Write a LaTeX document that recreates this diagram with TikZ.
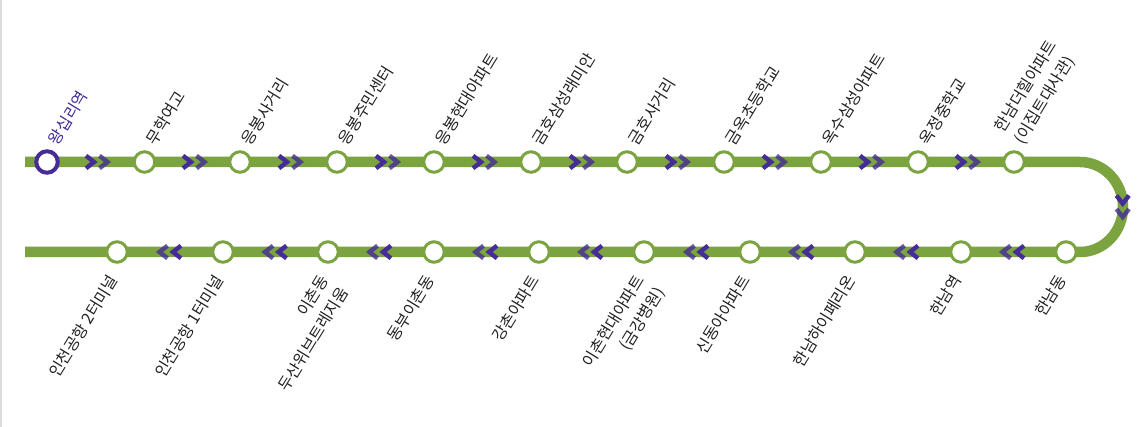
\documentclass[tikz,border=0pt]{standalone}
\usepackage{fontspec}
\setmainfont{Noto Sans CJK KR}
\usetikzlibrary{backgrounds}
\definecolor{trackgreen}{HTML}{7BA33F}
\definecolor{linepurple}{HTML}{452C96}
\definecolor{labelgray}{HTML}{222222}
\begin{document}
\begin{tikzpicture}[
x=1pt,y=-1pt,
track/.style={line width=10.5pt,trackgreen},
stop/.style={circle,draw=trackgreen,fill=white,line width=3pt,minimum size=20.5pt,inner sep=0pt},
firststop/.style={stop,draw=linepurple,line width=4pt,minimum size=21.5pt},
uplabel/.style={rotate=58.5,anchor=south west,align=left,inner sep=0pt,text=labelgray,font=\fontsize{16}{23}\selectfont},
downlabel/.style={rotate=58.5,anchor=north east,align=right,inner sep=0pt,text=labelgray,font=\fontsize{16}{23}\selectfont},
chev/.style={line width=4.4pt,linepurple,miter limit=10},
pics/chevs/.style={code={
    \draw[chev] (-11.5,-6.3) -- (-3.5,0) -- (-11.5,6.3);
    \draw[chev,opacity=.8] (2,-6.3) -- (10,0) -- (2,6.3);
}},
]
\useasboundingbox (0,0) rectangle (1146,427);
\node[draw=none,fill=black!14,minimum width=1.5pt,minimum height=427pt,inner sep=0pt,anchor=north west] (edge) at (0,0) {};

% upper row
\coordinate (startup) at (25,162);
\node[firststop] (s1) at (47,162) {};
\node[stop] (s2) at (144.5,162) {};
\node[stop] (s3) at (240,162) {};
\node[stop] (s4) at (337,162) {};
\node[stop] (s5) at (434,162) {};
\node[stop] (s6) at (531,162) {};
\node[stop] (s7) at (627,162) {};
\node[stop] (s8) at (724,162) {};
\node[stop] (s9) at (821,162) {};
\node[stop] (s10) at (918,162) {};
\node[stop] (s11) at (1014,162) {};

% lower row
\coordinate (startdown) at (25,252);
\node[stop] (b1) at (117,252) {};
\node[stop] (b2) at (223,252) {};
\node[stop] (b3) at (328,252) {};
\node[stop] (b4) at (434,252) {};
\node[stop] (b5) at (539,252) {};
\node[stop] (b6) at (644,252) {};
\node[stop] (b7) at (750,252) {};
\node[stop] (b8) at (855,252) {};
\node[stop] (b9) at (961,252) {};
\node[stop] (b10) at (1066,252) {};

\coordinate (bendtop) at (1080,162);

\begin{scope}[on background layer]
\draw[track] (startup) -- (s1.center) -- (s2.center) -- (s3.center) -- (s4.center) -- (s5.center) -- (s6.center) -- (s7.center) -- (s8.center) -- (s9.center) -- (s10.center) -- (s11.center) -- (bendtop)
    arc[start angle=-90,end angle=90,x radius=43,y radius=45] -- (b10.center) -- (b9.center) -- (b8.center) -- (b7.center) -- (b6.center) -- (b5.center) -- (b4.center) -- (b3.center) -- (b2.center) -- (b1.center) -- (startdown);
\end{scope}

% direction marks
\pic at (97.5,162) {chevs};
\pic at (194.5,162) {chevs};
\pic at (290.5,162) {chevs};
\pic at (387.5,162) {chevs};
\pic at (484.5,162) {chevs};
\pic at (581.5,162) {chevs};
\pic at (677.5,162) {chevs};
\pic at (774.5,162) {chevs};
\pic at (871.5,162) {chevs};
\pic at (967.5,162) {chevs};
\pic[rotate=-90] at (1122.7,207) {chevs};
\pic[rotate=180] at (1012.5,252) {chevs};
\pic[rotate=180] at (906.5,252) {chevs};
\pic[rotate=180] at (801.5,252) {chevs};
\pic[rotate=180] at (696.5,252) {chevs};
\pic[rotate=180] at (590.5,252) {chevs};
\pic[rotate=180] at (485.5,252) {chevs};
\pic[rotate=180] at (379.5,252) {chevs};
\pic[rotate=180] at (275,252) {chevs};
\pic[rotate=180] at (169.5,252) {chevs};

% names
\node[uplabel,text=linepurple] (n1) at (59,147) {왕십리역};
\node[uplabel] (n2) at (156.5,147) {무학여고};
\node[uplabel] (n3) at (252,147) {응봉사거리};
\node[uplabel] (n4) at (349,147) {응봉주민센터};
\node[uplabel] (n5) at (446,147) {응봉현대아파트};
\node[uplabel] (n6) at (543,147) {금호삼성래미안};
\node[uplabel] (n7) at (639,147) {금호사거리};
\node[uplabel] (n8) at (736,147) {금옥초등학교};
\node[uplabel] (n9) at (833,147) {옥수삼성아파트};
\node[uplabel] (n10) at (930,147) {옥정중학교};
\node[uplabel] (n11) at (1026,147) {한남더힐아파트\\(이집트대사관)};

\node[downlabel] (m1) at (107,273) {인천공항 2터미널};
\node[downlabel] (m2) at (213,273) {인천공항 1터미널};
\node[downlabel] (m3) at (318,273) {이촌동\\두산위브트레지움};
\node[downlabel] (m4) at (424,273) {동부이촌동};
\node[downlabel] (m5) at (529,273) {강촌아파트};
\node[downlabel] (m6) at (634,273) {이촌현대아파트\\(금강병원)};
\node[downlabel] (m7) at (740,273) {신동아아파트};
\node[downlabel] (m8) at (845,273) {한남하이페리온};
\node[downlabel] (m9) at (951,273) {한남역};
\node[downlabel] (m10) at (1056,273) {한남동};
\end{tikzpicture}
\end{document}
